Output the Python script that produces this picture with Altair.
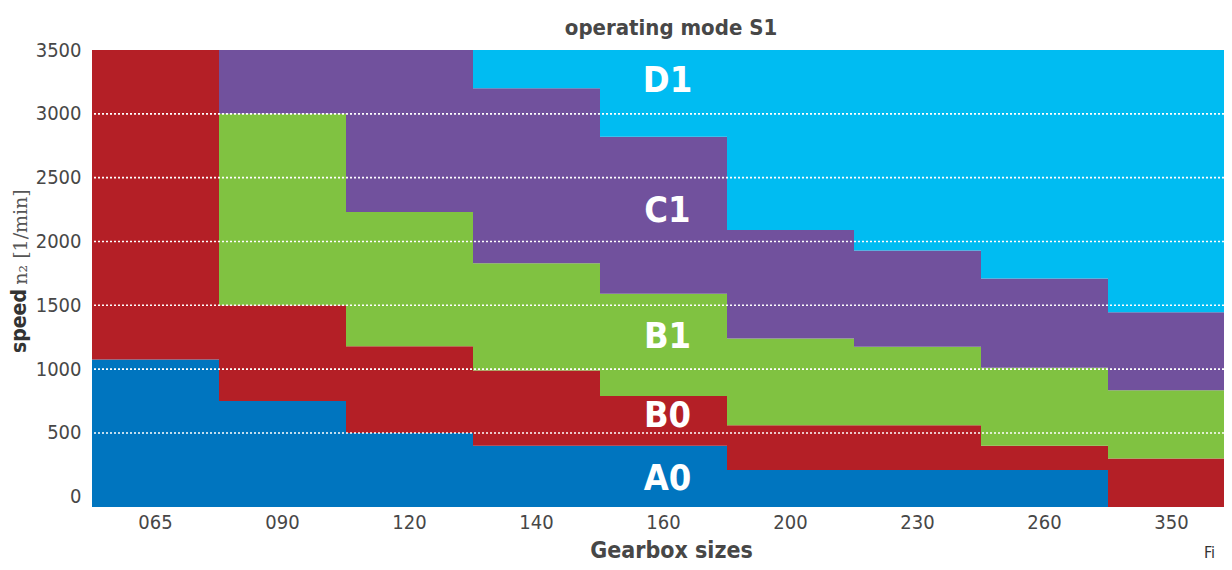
import altair as alt
import pandas as pd

# ---------------- data ----------------
sizes = ["065", "090", "120", "140", "160", "200", "230", "260", "350"]
classes = ["A0", "B0", "B1", "C1", "D1"]
colors = ["#0075BF", "#B41F26", "#80C241", "#71519D", "#00BCF2"]

# upper speed limit of each operating class per gearbox size (None = class absent)
a0_top = [1075, 750, 500, 400, 400, 210, 210, 210, None]
b0_top = [3500, 1500, 1180, 990, 790, 560, 560, 400, 300]
b1_top = [None, 3000, 2230, 1830, 1590, 1240, 1175, 1010, 835]
c1_top = [None, 3500, 3500, 3200, 2820, 2090, 1930, 1710, 1445]
d1_top = [None, None, None, 3500, 3500, 3500, 3500, 3500, 3500]

axis_floor = -80          # bars start slightly below 0
axis_top = 3500
y_ticks = [0, 500, 1000, 1500, 2000, 2500, 3000, 3500]
grid_vals = [500, 1000, 1500, 2000, 2500, 3000]

label_names = ["D1", "C1", "B1", "B0", "A0"]
label_speed = [3260, 2235, 1255, 630, 140]
label_size = "160"

# ---------------- tables ----------------
tops = [a0_top, b0_top, b1_top, c1_top, d1_top]
rows = []
for i, s in enumerate(sizes):
    prev = axis_floor
    for c, t in zip(classes, tops):
        top = t[i]
        if top is None or top <= prev:
            continue
        rows.append({"size": s, "cls": c, "lo": prev, "hi": top})
        prev = top
bars_df = pd.DataFrame(rows)
grid_df = pd.DataFrame({"v": grid_vals})
lab_df = pd.DataFrame({"size": [label_size] * len(label_names),
                       "v": label_speed, "name": label_names})

NARROW = "DejaVu Sans Condensed, Roboto Condensed, Roboto, sans-serif"
GREY = "#474747"

# band scale runs a little past the visible plot edge (the reference is cropped there)
x_scale = alt.Scale(domain=sizes, paddingInner=0, paddingOuter=0, range=[0, 1143])
y_scale = alt.Scale(domain=[axis_floor, axis_top], nice=False, zero=False)

bars = alt.Chart(bars_df).mark_bar(strokeWidth=0).encode(
    x=alt.X("size:N", scale=x_scale, sort=sizes,
            axis=alt.Axis(title="Gearbox sizes", labelAngle=0, domain=False, ticks=False,
                          labelFont=NARROW, labelFontSize=20, labelColor=GREY,
                          labelPadding=5,
                          titleFont=NARROW, titleFontSize=23, titleFontWeight="bold",
                          titleColor=GREY, titleX=579, titleY=50, titleAlign="center",
                          titleBaseline="alphabetic")),
    y=alt.Y("lo:Q", scale=y_scale,
            axis=alt.Axis(title=None, values=y_ticks, format="d", grid=False, domain=False,
                          ticks=False, labelFont=NARROW, labelFontSize=20, labelColor=GREY,
                          labelPadding=11)),
    y2="hi:Q",
    color=alt.Color("cls:N", scale=alt.Scale(domain=classes, range=colors), legend=None),
)

grid = alt.Chart(grid_df).mark_rule(color="white", strokeDash=[2, 2], strokeWidth=1.6).encode(
    y=alt.Y("v:Q", scale=y_scale)
)

labels = alt.Chart(lab_df).mark_text(
    font=NARROW, fontSize=36, fontWeight="bold", color="white", baseline="middle", dx=4
).encode(
    x=alt.X("size:N", scale=x_scale, sort=sizes),
    y=alt.Y("v:Q", scale=y_scale),
    text="name:N",
)

main_title = alt.Chart(pd.DataFrame({"t": ["operating mode S1"]})).mark_text(
    font=NARROW, fontSize=22, fontWeight="bold", color=GREY,
    align="center", baseline="alphabetic"
).encode(x=alt.value(579), y=alt.value(-15), text="t:N")

speed_title = alt.Chart(pd.DataFrame({"t": ["speed"]})).mark_text(
    font=NARROW, fontSize=21, fontWeight="bold", color="#333333",
    angle=270, align="center", baseline="alphabetic"
).encode(x=alt.value(-66), y=alt.value(271), text="t:N")

unit_title = alt.Chart(pd.DataFrame({"t": ["n₂ [1/min]"]})).mark_text(
    font="DejaVu Serif", fontSize=19, color="#555555",
    angle=270, align="center", baseline="alphabetic"
).encode(x=alt.value(-65), y=alt.value(187), text="t:N")

fig_text = alt.Chart(pd.DataFrame({"t": ["Fi"]})).mark_text(
    font=NARROW, fontSize=16, color="#333333", align="left", baseline="alphabetic"
).encode(x=alt.value(1112), y=alt.value(508), text="t:N")

chart = alt.layer(bars, grid, labels, main_title, speed_title, unit_title, fig_text).properties(
    width=1132,
    height=457,
    autosize=alt.AutoSizeParams(type="none"),
    padding={"left": 84, "top": 42, "right": 0, "bottom": 56},
    background="white",
).configure_view(stroke=None)

chart.save("out.html", embed_options={"renderer": "svg", "actions": False})
